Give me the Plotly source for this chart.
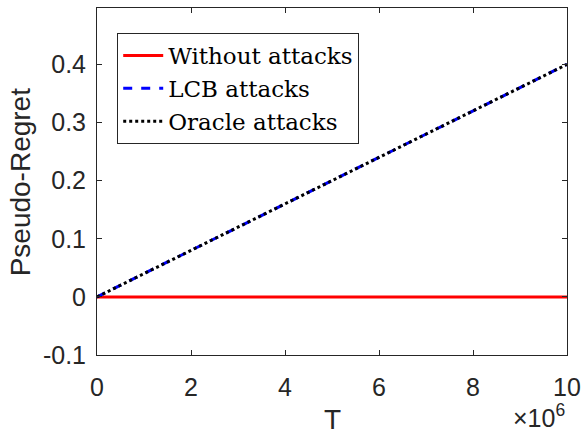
import plotly.graph_objects as go

T_millions = [0, 1, 2, 3, 4, 5, 6, 7, 8, 9, 10]
regret_without = [0, 0, 0, 0, 0, 0, 0, 0, 0, 0, 0]
regret_lcb = [0, 0.04, 0.08, 0.12, 0.16, 0.20, 0.24, 0.28, 0.32, 0.36, 0.40]
regret_oracle = [0, 0.04, 0.08, 0.12, 0.16, 0.20, 0.24, 0.28, 0.32, 0.36, 0.40]
x_ticks = [0, 2, 4, 6, 8, 10]
y_ticks = [-0.1, 0, 0.1, 0.2, 0.3, 0.4]
y_tick_text = ["-0.1", "0", "0.1", "0.2", "0.3", "0.4"]

SANS = "Liberation Sans, Arial, sans-serif"
DARK = "#262626"

fig = go.Figure()
fig.add_trace(go.Scatter(x=T_millions, y=regret_without, mode="lines", name="Without attacks",
                         line=dict(color="#ff0000", width=3)))
fig.add_trace(go.Scatter(x=T_millions, y=regret_lcb, mode="lines", name="LCB attacks",
                         line=dict(color="#0000ff", width=3, dash="dash")))
fig.add_trace(go.Scatter(x=T_millions, y=regret_oracle, mode="lines", name="Oracle attacks",
                         line=dict(color="#000000", width=3, dash="dot")))

axis_common = dict(showgrid=False, zeroline=False, showline=True, linecolor=DARK, linewidth=1,
                   mirror="ticks", ticks="inside", ticklen=5, tickcolor=DARK, automargin=False,
                   tickfont=dict(family=SANS, size=25, color=DARK))

fig.update_layout(
    width=582, height=437,
    margin=dict(l=97, r=15, t=8, b=82),
    paper_bgcolor="white", plot_bgcolor="white",
    xaxis=dict(range=[0, 10], tickvals=x_ticks, ticklabelstandoff=10, **axis_common),
    yaxis=dict(range=[-0.1, 0.497], tickvals=y_ticks, ticktext=y_tick_text,
               ticklabelstandoff=5, **axis_common),
    legend=dict(x=0.043, y=0.928, xanchor="left", yanchor="top",
                bgcolor="white", bordercolor=DARK, borderwidth=1,
                font=dict(family="DejaVu Serif, serif", size=23, color="black"),
                tracegroupgap=0, itemwidth=40),
    showlegend=True,
)
# axis titles
fig.add_annotation(x=0.5, y=-0.185, xref="paper", yref="paper", xanchor="center", yanchor="middle",
                   text="T", showarrow=False, font=dict(family=SANS, size=28, color=DARK))
fig.add_annotation(x=-0.162, y=0.5, xref="paper", yref="paper", xanchor="center", yanchor="middle",
                   text="Pseudo-Regret", textangle=-90, showarrow=False,
                   font=dict(family=SANS, size=28, color=DARK))
# exponent label
fig.add_annotation(x=1.0, y=-0.228, xref="paper", yref="paper", xanchor="right", yanchor="bottom",
                   text="×10<sup>6</sup>", showarrow=False,
                   font=dict(family=SANS, size=25, color=DARK))

fig.write_html("out.html")
